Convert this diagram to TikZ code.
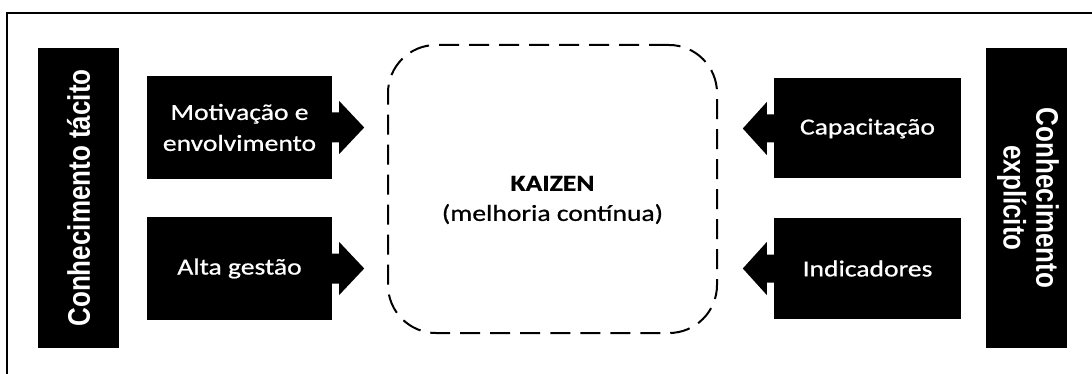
\documentclass[tikz,border=0pt]{standalone}
\usepackage{fontspec}
\usepackage{graphicx}
\setmainfont{Carlito}
\newfontfamily\boxfont[FakeStretch=1.2,FakeBold=0.8]{Carlito}
\newfontfamily\sidefont{Liberation Sans}
\begin{document}
\begin{tikzpicture}[x=1pt,y=-1pt,
  blackbox/.style={fill=black,inner sep=0pt,text=white,align=center,
    font=\boxfont\fontsize{23}{31}\selectfont},
  sidebox/.style={fill=black,inner sep=0pt,text=white,minimum width=81pt,minimum height=300pt},
  arr/.style={fill=black},
  frameline/.style={line width=2pt}]
\useasboundingbox (0,0) rectangle (1092,374);
\draw[frameline] (7,376) -- (7,13) -- (1094,13);

% side boxes
\node[sidebox] (tac) at (78.5,198) {\scalebox{1.2}[1]{\rotatebox{90}{\sidefont\bfseries\fontsize{26}{27}\selectfont Conhecimento tácito}}};
\node[sidebox] (exp) at (1026.5,198) {\scalebox{1.2}[1]{\rotatebox{-90}{\sidefont\bfseries\fontsize{26}{27}\selectfont\begin{tabular}{@{}c@{}}Conhecimento\\[0pt] explícito\end{tabular}}}};

% text boxes
\node[blackbox,minimum width=185pt,minimum height=103pt] (mot) at (239.5,127.5) {Motivação e\\envolvimento};
\node[blackbox,minimum width=185pt,minimum height=103pt] (alta) at (239.5,268.5) {Alta gestão};
\node[blackbox,minimum width=187pt,minimum height=100pt] (cap) at (867.5,128.5) {Capacitação};
\node[blackbox,minimum width=187pt,minimum height=100pt] (ind) at (867.5,268.5) {Indicadores};

% central box
\node[draw,line width=2pt,dash pattern=on 20pt off 10pt,rounded corners=48pt,
  minimum width=329pt,minimum height=288pt,inner sep=0pt] (kai) at (552.5,189) {};
\node[align=center,font=\boxfont\fontsize{23}{30}\selectfont] (kt) at (kai.center) [yshift=-11pt]
  {\textbf{KAIZEN}\\(melhoria contínua)};

% arrows
\fill[arr] (mot.east) ++(0,-15) -- ++(7,0) -- ++(0,-11.5) -- ++(25,26.5) -- ++(-25,26.5) -- ++(0,-11.5) -- ++(-7,0) -- cycle;
\fill[arr] (alta.east) ++(0,-15) -- ++(7,0) -- ++(0,-11.5) -- ++(25,26.5) -- ++(-25,26.5) -- ++(0,-11.5) -- ++(-7,0) -- cycle;
\fill[arr] (cap.west) ++(0,-14) -- ++(-7,0) -- ++(0,-12.5) -- ++(-24,26.5) -- ++(24,26.5) -- ++(0,-12.5) -- ++(7,0) -- cycle;
\fill[arr] (ind.west) ++(0,-14) -- ++(-7,0) -- ++(0,-12.5) -- ++(-24,26.5) -- ++(24,26.5) -- ++(0,-12.5) -- ++(7,0) -- cycle;
\end{tikzpicture}
\end{document}
